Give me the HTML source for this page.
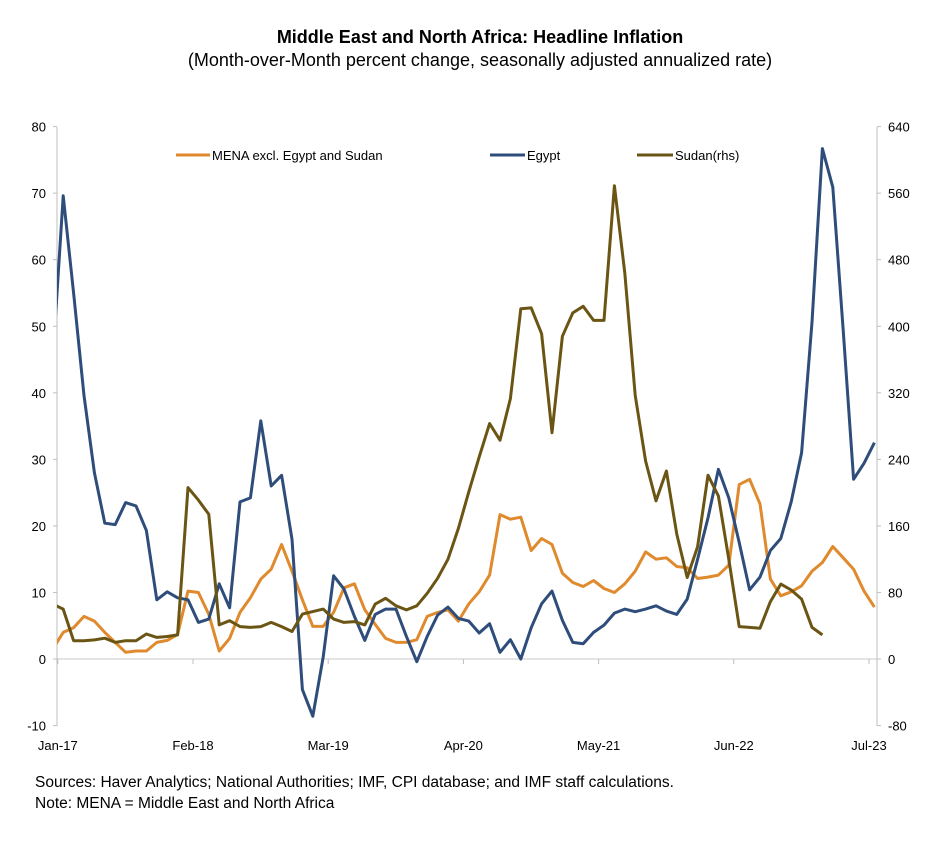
<!DOCTYPE html>
<html><head><meta charset="utf-8">
<style>
body{margin:0;background:#fff;width:950px;height:836px;overflow:hidden;font-family:"Liberation Sans",Arial,sans-serif;}
svg text{font-family:"Liberation Sans",Arial,sans-serif;}
</style></head>
<body>
<svg id="chart" width="950" height="836" viewBox="0 0 950 836" xmlns="http://www.w3.org/2000/svg">
<text x="480" y="43" text-anchor="middle" font-size="18" font-weight="bold" fill="#000">Middle East and North Africa: Headline Inflation</text>
<text x="480" y="66" text-anchor="middle" font-size="18" fill="#000">(Month-over-Month percent change, seasonally adjusted annualized rate)</text>
<g id="axes"></g>
<g id="series"></g>
<g>
<line x1="176" y1="155" x2="210" y2="155" stroke="#e08a2e" stroke-width="3"/>
<text x="212" y="160" font-size="13">MENA excl. Egypt and Sudan</text>
<line x1="490" y1="155" x2="525" y2="155" stroke="#2e4d7a" stroke-width="3"/>
<text x="527" y="160" font-size="13">Egypt</text>
<line x1="637" y1="155" x2="673" y2="155" stroke="#6b5514" stroke-width="3"/>
<text x="675" y="160" font-size="13">Sudan(rhs)</text>
</g>
<text x="35" y="787" font-size="15.5">Sources: Haver Analytics; National Authorities; IMF, CPI database; and IMF staff calculations.</text>
<text x="35" y="808" font-size="15.5">Note: MENA = Middle East and North Africa</text>
</svg>
<script>
const xLabels = ["Jan-17","Feb-18","Mar-19","Apr-20","May-21","Jun-22","Jul-23"];
const leftTicks = [80,70,60,50,40,30,20,10,0,-10];
const rightTicks = [640,560,480,400,320,240,160,80,0,-80];
// monthly series, index 0 = Dec-16
const mena = [1.5,4,4.7,6.4,5.7,4,2.5,1,1.2,1.2,2.5,2.8,3.7,10.2,10,6.7,1.2,3.1,7,9.2,12,13.5,17.2,13.2,8.9,4.9,4.9,7,10.7,11.3,7.4,5.2,3.1,2.5,2.5,2.9,6.4,7,7.4,5.7,8.3,10.1,12.6,21.7,21,21.3,16.3,18.1,17.2,12.9,11.5,10.9,11.8,10.6,10,11.3,13.2,16.1,15,15.2,13.9,13.7,12.1,12.3,12.6,14.1,26.2,27,23.3,12,9.5,10.1,11,13.2,14.5,16.9,15.2,13.5,10.2,7.8];
const egypt = [45,69.6,55,39.6,28,20.4,20.2,23.5,23,19.3,8.9,10.1,9.2,8.9,5.5,6,11.3,7.7,23.6,24.2,35.8,26,27.6,18,-4.6,-8.6,0.3,12.5,10.5,6.4,2.8,6.7,7.5,7.5,3.4,-0.4,3.4,6.6,7.8,6.1,5.7,3.9,5.3,1,2.9,0,4.7,8.3,10.2,5.8,2.5,2.3,4,5.1,6.9,7.5,7.1,7.5,8,7.2,6.7,9,15,21.2,28.5,24.2,17.5,10.4,12.3,16.3,18.1,23.6,31,50.6,76.7,70.9,49.4,27,29.4,32.5];
const sudan = [66,60,22,22,23,25,20,22,22,30,26,27,29,206,191,174,41,46,39,38,39,44,39,33,54,57,60,48,44,45,41,66,73,64,59,64,79,97,120,157,201,243,283,263,313,421,422,391,272,388,416,424,407,407,569,464,317,238,190,226,150,98,135,221,196,120,39,38,37,69,90,83,72,38,29];

const NS="http://www.w3.org/2000/svg";
const X0=52.8, DX=10.4, PL=57, PR=877, PT=127, PB=726;
const yL=v=>659-(v)*6.655;
const yR=v=>yL(v/8);
const xI=i=>X0+DX*i;
function mk(tag,attrs,parent){const e=document.createElementNS(NS,tag);for(const k in attrs)e.setAttribute(k,attrs[k]);parent.appendChild(e);return e;}
const axes=document.getElementById('axes');
const ser=document.getElementById('series');
let l=mk('line',{x1:PL,y1:PT,x2:PL,y2:PB,stroke:'#bfbfbf','stroke-width':1},axes);


l=mk('line',{x1:PR,y1:PT,x2:PR,y2:PB,stroke:'#bfbfbf','stroke-width':1},axes);


l=mk('line',{x1:PL,y1:yL(0),x2:PR,y2:yL(0),stroke:'#c8c8c8','stroke-width':1},axes);


leftTicks.forEach(v=>{
  const t=mk('text',{x:46,y:yL(v)+5,'text-anchor':'end','font-size':13},axes);t.textContent=v;
  
  
  const k=mk('line',{x1:PL-4,y1:yL(v),x2:PL,y2:yL(v),stroke:'#bfbfbf'},axes);
  
  
});
rightTicks.forEach(v=>{
  const t=mk('text',{x:888,y:yR(v)+5,'text-anchor':'start','font-size':13},axes);t.textContent=v;
  
  
  const k=mk('line',{x1:PR,y1:yR(v),x2:PR+4,y2:yR(v),stroke:'#bfbfbf'},axes);
  
  
});
xLabels.forEach((s,j)=>{
  const x=X0-DX*0.5+DX*(1+13*j)-0.2;
  const t=mk('text',{x:x,y:750,'text-anchor':'middle','font-size':13},axes);t.textContent=s;
  
  
  const k=mk('line',{x1:x,y1:yL(0),x2:x,y2:yL(0)+5,stroke:'#bfbfbf'},axes);
  
  
});
const cp=mk('clipPath',{id:'clip'},ser);
mk('rect',{x:PL,y:PT-20,width:PR-PL,height:PB-PT+40},cp);
function line(arr,fy,color,name){
  const pts=arr.map((v,i)=>xI(i).toFixed(1)+','+fy(v).toFixed(1)).join(' ');
  const p=mk('polyline',{points:pts,fill:'none',stroke:color,'stroke-width':3,'stroke-linejoin':'round','clip-path':'url(#clip)'},ser);
  
  
}
line(mena,yL,'#e08a2e','mena-line');
line(egypt,yL,'#2e4d7a','egypt-line');
line(sudan,yR,'#6b5514','sudan-line');
</script>
</body></html>
